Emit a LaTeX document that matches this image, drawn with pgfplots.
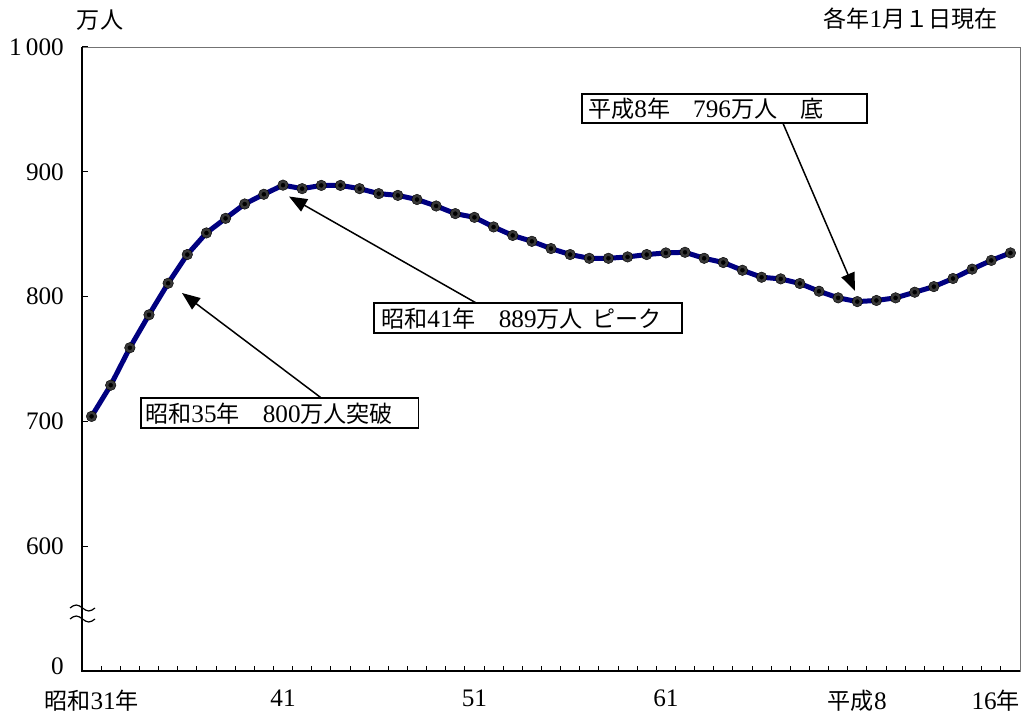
\documentclass[border=0pt]{standalone}
\usepackage{fontspec}
\setmainfont{Liberation Serif}[Scale=1.2]
\newfontfamily\cjk{Noto Sans CJK JP}[Scale=1.1]
\usepackage{pgfplots}
\usepackage{pgfplotstable}
\pgfplotsset{compat=1.18}
\usetikzlibrary{arrows.meta}
\definecolor{navyc}{RGB}{0,0,128}
\newcommand{\J}[1]{{\cjk #1}}
\pgfplotstableread{
idx val
0 704
1 729
2 759
3 785.4
4 810.7
5 833.7
6 851
7 862.7
8 874.2
9 882
10 889.3
11 886.5
12 889.1
13 889.1
14 886.5
15 882.5
16 881.1
17 877.8
18 872.6
19 866.5
20 863.5
21 855.8
22 849
23 844.3
24 838.5
25 833.7
26 830.7
27 830.7
28 831.8
29 833.7
30 835
31 835.5
32 830.7
33 827.3
34 821.1
35 815.5
36 814.2
37 810.5
38 804.3
39 799
40 796
41 796.9
42 799
43 803.5
44 808
45 814.5
46 822
47 829
48 835
}\popdata
\begin{document}
\fontsize{21pt}{25pt}\selectfont
\begin{tikzpicture}[x=1pt,y=1pt]
\path[use as bounding box] (0,0) rectangle (1026,720);
\begin{axis}[
  at={(82pt,49pt)}, anchor=south west, scale only axis,
  width=938pt, height=624pt,
  xmin=-0.5, xmax=48.5, ymin=500, ymax=1000,
  xtick={0,10,20,30,40,48},
  xticklabels={\J{昭和}31\J{年},41,51,61,\J{平成}8,\makebox[0pt][r]{16\J{年}\hspace*{-9.5pt}}},
  major x tick style={draw=none},
  minor xtick={-0.5,0.5,...,48.5},
  ytick={500,600,700,800,900,1000},
  yticklabels={\raisebox{10pt}{0},600,700,800,900,1\,000},
  tick align=inside, xtick pos=bottom, ytick pos=left,
  major tick length=6pt, minor tick length=5pt,
  tick style={black, line width=1pt},
  axis line style={draw=black!55, line width=0.8pt},
  xticklabel style={inner sep=0pt, anchor=north, yshift=-19pt},
  yticklabel style={inner sep=0pt, anchor=east, xshift=-18pt},
  clip=false,
]
\addplot[color=navyc, line width=5pt, mark=none, line join=round] table[x=idx,y=val]{\popdata};
\addplot[only marks, mark=*, mark size=5.3pt, mark options={fill=black!78, draw=none}] table[x=idx,y=val]{\popdata};
\addplot[only marks, mark=*, mark size=2pt, mark options={fill=black, draw=none}] table[x=idx,y=val]{\popdata};
\draw[black, line width=1.8pt] (rel axis cs:0,1) -- (rel axis cs:0,0) -- (rel axis cs:1,0);
\end{axis}
% break symbol
\draw[line width=1.2pt] (70,112) sin (76.25,115) cos (82.5,112) sin (88.75,109) cos (95,112);
\draw[line width=1.2pt] (70,101) sin (76.25,104) cos (82.5,101) sin (88.75,98) cos (95,101);
% top labels
\node[anchor=center, inner sep=0pt] at (100,700) {\J{万人}};
\node[anchor=east, inner sep=0pt] at (998,701) {\J{各年}1\J{月１日現在}};
% annotations
\draw[line width=1.5pt, -{Triangle[length=18pt,width=14pt]}] (321.7,321.7) -- (182,427);
\draw[line width=1.5pt, -{Triangle[length=18pt,width=14pt]}] (476.7,416.7) -- (289,523.5);
\draw[line width=1.5pt, -{Triangle[length=18pt,width=14pt]}] (783,596.7) -- (855,429);
\draw[line width=1.6pt, fill=white] (140.7,291.7) rectangle (418.3,321.7);
\draw[line width=1.6pt, fill=white] (374,386.7) rectangle (682,416.7);
\draw[line width=1.6pt, fill=white] (581.7,596.7) rectangle (866.7,626);
\node[anchor=west, inner sep=0pt] at (145,306.7) {\J{昭和}35\J{年　}800\J{万人突破}};
\node[anchor=west, inner sep=0pt] at (381,401.7) {\J{昭和}41\J{年　}889\J{万人}\hspace{10pt}\J{ピーク}};
\node[anchor=west, inner sep=0pt] at (588,611.3) {\J{平成}8\J{年　}796\J{万人　底}};
\end{tikzpicture}
\end{document}
